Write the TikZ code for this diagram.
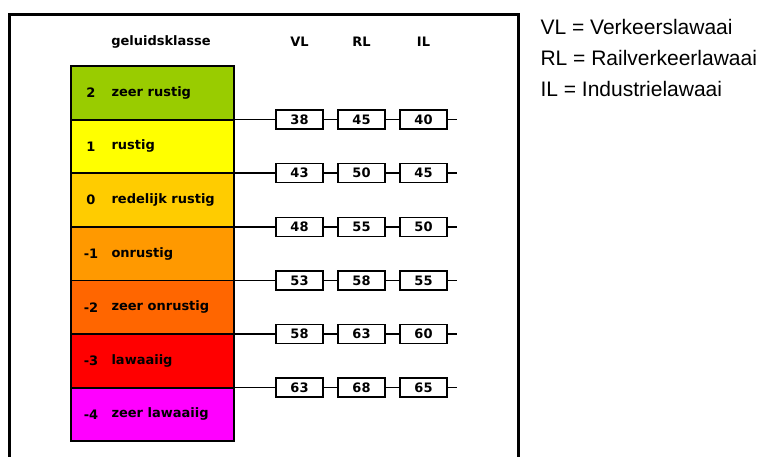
\documentclass[tikz,border=0pt]{standalone}
\usepackage{fontspec}
\setmainfont{DejaVu Sans}
\newfontfamily\legendfont{Liberation Sans}
\usepackage{tikz}
\definecolor{KlasseA}{HTML}{99CC00}
\definecolor{KlasseB}{HTML}{FFFF00}
\definecolor{KlasseC}{HTML}{FFCC00}
\definecolor{KlasseD}{HTML}{FF9900}
\definecolor{KlasseE}{HTML}{FF6600}
\definecolor{KlasseF}{HTML}{FF0000}
\definecolor{KlasseG}{HTML}{FF00FF}
\tikzset{
  klasse/.style={draw,line width=1.8pt,minimum width=163pt,minimum height=53.6pt,anchor=north west,inner sep=0pt,outer sep=0pt},
  waarde/.style={draw,line width=1.3pt,fill=white,minimum width=47pt,minimum height=19pt,inner sep=0pt},
  legenda/.style={anchor=west,font=\legendfont\fontsize{21}{24}\selectfont}
}

\begin{document}
\begin{tikzpicture}[x=1pt,y=-1pt,font=\bfseries\fontsize{13}{15}\selectfont]
\useasboundingbox (0,0) rectangle (761,456);

\draw [line width=3pt] (9,458) -- (9,14) -- (518,14) -- (518,458);

\node (kop) at (161,42) {geluidsklasse};
\node (kopVL) at (299.5,42) {VL};
\node (kopRL) at (361.5,42) {RL};
\node (kopIL) at (423.5,42) {IL};

\foreach \n/\lab/\col [count=\i] in {2/zeer rustig/KlasseA,1/rustig/KlasseB,0/redelijk rustig/KlasseC,-1/onrustig/KlasseD,-2/zeer onrustig/KlasseE,-3/lawaaiig/KlasseF,-4/zeer lawaaiig/KlasseG}
{
  \node (rij\i) [klasse,fill=\col] at (71,{66+(\i-1)*53.6}) {};
  \node (nr\i) at ([xshift=20pt]rij\i.west) {\n};
  \node (naam\i) [anchor=west] at ([xshift=37pt]rij\i.west) {\lab};
}

\foreach \v/\r/\l [count=\i] in {38/45/40,43/50/45,48/55/50,53/58/55,58/63/60,63/68/65}
{
  \node (vl\i) [waarde] at (299.5,{66+\i*53.6}) {\v};
  \node (rl\i) [waarde] at (361.5,{66+\i*53.6}) {\r};
  \node (il\i) [waarde] at (423.5,{66+\i*53.6}) {\l};
  \coordinate (eind\i) at (457,{66+\i*53.6});
  \draw [line width=1.5pt] (rij\i.south east) -- (vl\i) (vl\i) -- (rl\i) (rl\i) -- (il\i) (il\i) -- (eind\i);
}

\node (legVL) [legenda] at (537,27) {VL = Verkeerslawaai};
\node (legRL) [legenda] at (537,58) {RL = Railverkeerlawaai};
\node (legIL) [legenda] at (537,89) {IL = Industrielawaai};

\end{tikzpicture}
\end{document}
